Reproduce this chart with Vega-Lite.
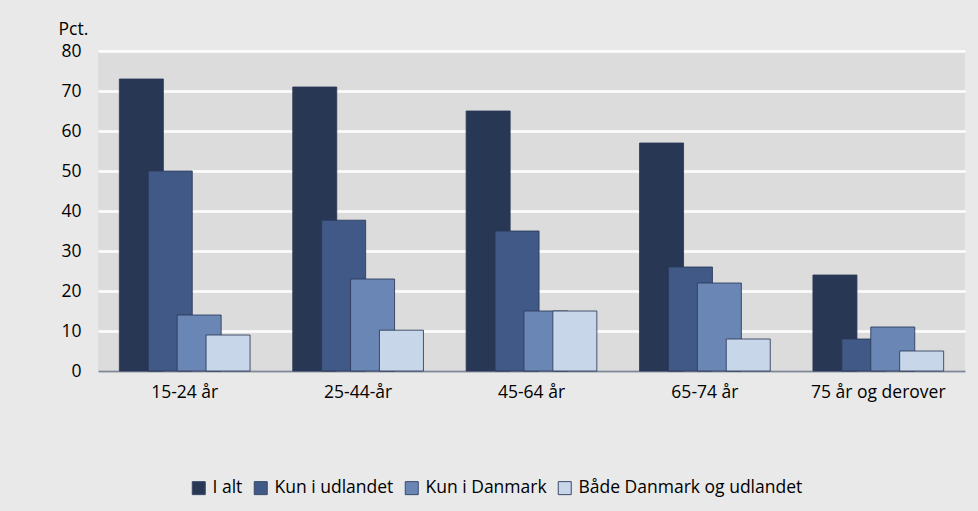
{
  "$schema": "https://vega.github.io/schema/vega-lite/v6.json",
  "autosize": {"type": "none"},
  "width": 867,
  "height": 320,
  "padding": {"left": 98, "top": 51, "right": 13, "bottom": 140},
  "background": "#e9e9e9",
  "data": {
    "values": [
      {"alder": "15-24 år", "serie": "I alt", "pct": 73},
      {"alder": "15-24 år", "serie": "Kun i udlandet", "pct": 50},
      {"alder": "15-24 år", "serie": "Kun i Danmark", "pct": 14},
      {"alder": "15-24 år", "serie": "Både Danmark og udlandet", "pct": 9},
      {"alder": "25-44-år", "serie": "I alt", "pct": 71},
      {"alder": "25-44-år", "serie": "Kun i udlandet", "pct": 37.7},
      {"alder": "25-44-år", "serie": "Kun i Danmark", "pct": 23},
      {"alder": "25-44-år", "serie": "Både Danmark og udlandet", "pct": 10.2},
      {"alder": "45-64 år", "serie": "I alt", "pct": 65},
      {"alder": "45-64 år", "serie": "Kun i udlandet", "pct": 35},
      {"alder": "45-64 år", "serie": "Kun i Danmark", "pct": 15},
      {"alder": "45-64 år", "serie": "Både Danmark og udlandet", "pct": 15},
      {"alder": "65-74 år", "serie": "I alt", "pct": 57},
      {"alder": "65-74 år", "serie": "Kun i udlandet", "pct": 26},
      {"alder": "65-74 år", "serie": "Kun i Danmark", "pct": 22},
      {"alder": "65-74 år", "serie": "Både Danmark og udlandet", "pct": 8},
      {"alder": "75 år og derover", "serie": "I alt", "pct": 24},
      {"alder": "75 år og derover", "serie": "Kun i udlandet", "pct": 8},
      {"alder": "75 år og derover", "serie": "Kun i Danmark", "pct": 11},
      {"alder": "75 år og derover", "serie": "Både Danmark og udlandet", "pct": 5}
    ]
  },
  "mark": {"type": "bar", "width": 44, "stroke": "#2b3a58", "strokeWidth": 1, "strokeOpacity": 0.85},
  "encoding": {
    "x": {
      "field": "alder", "type": "nominal", "sort": null,
      "scale": {"type": "band", "paddingInner": 0, "paddingOuter": 0},
      "axis": {"title": null, "labelAngle": 0, "ticks": false, "labelPadding": 12, "labelFontSize": 17.5, "labelColor": "#000000", "domainColor": "#7f8796", "domainWidth": 2, "labelFont": "Open Sans"}
    },
    "xOffset": {
      "field": "serie", "type": "nominal",
      "sort": ["I alt", "Kun i udlandet", "Kun i Danmark", "Både Danmark og udlandet"],
      "scale": {"type": "band", "paddingInner": 0, "paddingOuter": 1.03}
    },
    "y": {
      "field": "pct", "type": "quantitative",
      "scale": {"domain": [0, 80], "nice": false},
      "axis": {
        "values": [0, 10, 20, 30, 40, 50, 60, 70, 80],
        "title": "Pct.", "titleAngle": 0, "titleAlign": "left", "titleBaseline": "alphabetic",
        "titleX": -40, "titleY": -17, "titleFontSize": 17.5, "titleFontWeight": "normal", "titleFont": "Open Sans", "titleColor": "#000000",
        "labelFontSize": 17.5, "labelFont": "Open Sans", "labelColor": "#000000", "labelPadding": 17,
        "ticks": false, "domain": false,
        "gridColor": "#ffffff", "gridWidth": 2.5, "gridOpacity": 1
      }
    },
    "color": {
      "field": "serie", "type": "nominal",
      "sort": ["I alt", "Kun i udlandet", "Kun i Danmark", "Både Danmark og udlandet"],
      "scale": {"range": ["#283754", "#405986", "#6a86b4", "#c7d6e9"]},
      "legend": {
        "title": null, "orient": "none", "direction": "horizontal",
        "legendX": 92, "legendY": 428,
        "symbolType": "square", "symbolSize": 169, "symbolStrokeColor": "#3a4a68", "symbolStrokeWidth": 1,
        "symbolOpacity": 1, "labelLimit": 0,
        "labelFontSize": 17.5, "labelFont": "Open Sans", "labelColor": "#000000", "labelOffset": 5,
        "columnPadding": 9
      }
    }
  },
  "config": {
    "view": {"fill": "#dcdcdc", "stroke": null}
  }
}
